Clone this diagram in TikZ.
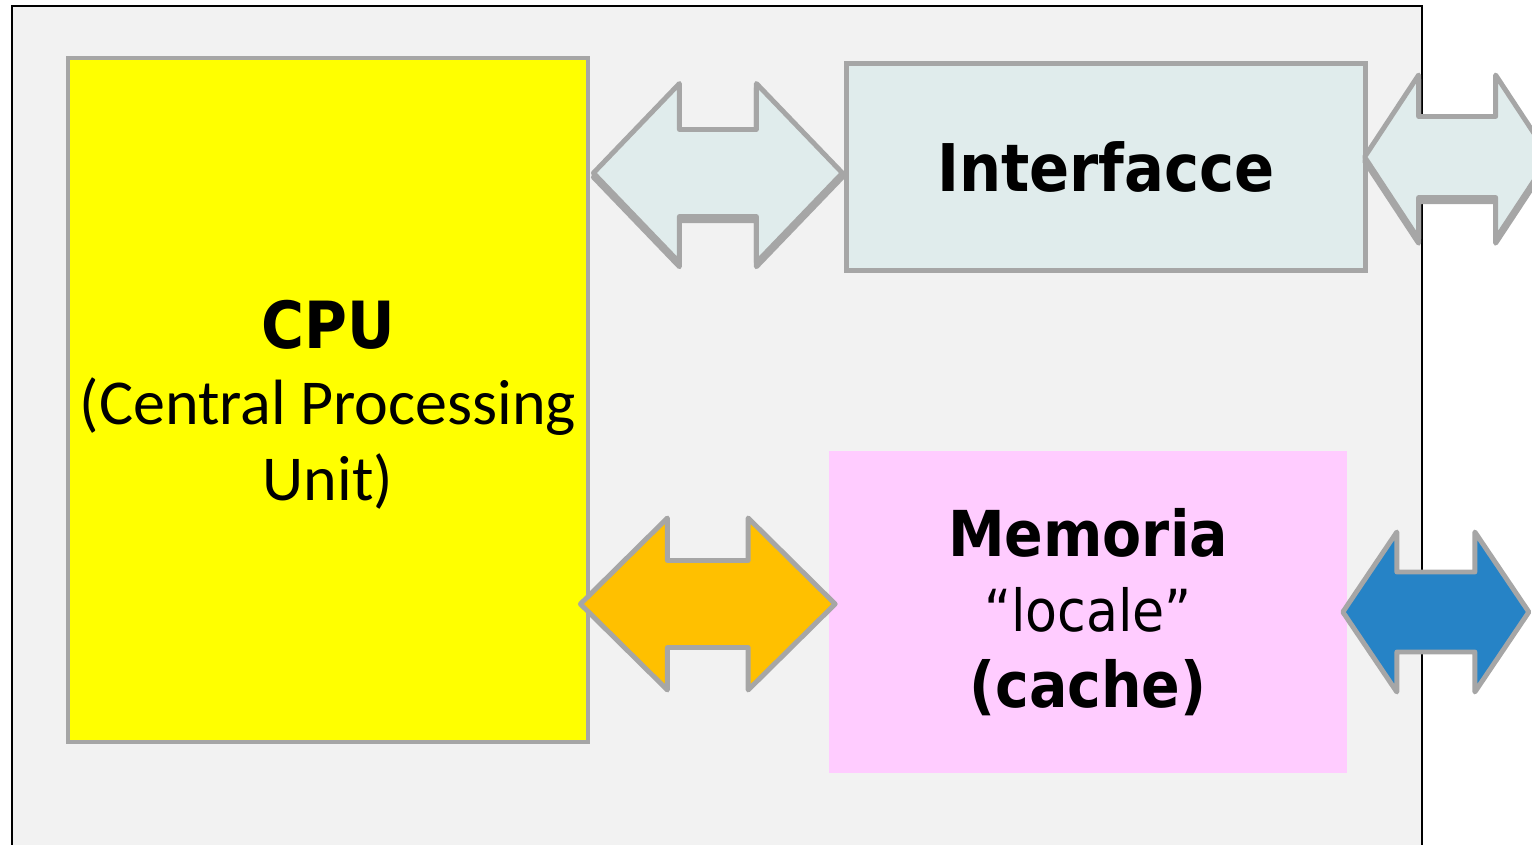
\documentclass[tikz,border=0pt]{standalone}
\usepackage{fontspec}
\setmainfont{Carlito}
\newfontfamily\tahoma{DejaVu Sans Condensed}
\usepackage{tikz}
\usetikzlibrary{calc}
\definecolor{panelbg}{HTML}{F2F2F2}
\definecolor{edgegray}{HTML}{A6A6A6}
\definecolor{cpuyellow}{HTML}{FFFF00}
\definecolor{ifcfill}{HTML}{E0ECEC}
\definecolor{memfill}{HTML}{FFCCFF}
\definecolor{busorange}{HTML}{FFC000}
\definecolor{busblue}{HTML}{2683C6}

% double block arrow: [style] {left tip} {right tip} {head length} {head half} {shaft half}
\newcommand{\dblarrow}[6][]{%
  \draw[#1] (#2) -- ($(#2)+(#4,-#5)$) -- ($(#2)+(#4,-#6)$) -- ($(#3)+(-#4,-#6)$)
    -- ($(#3)+(-#4,-#5)$) -- (#3) -- ($(#3)+(-#4,#5)$) -- ($(#3)+(-#4,#6)$)
    -- ($(#2)+(#4,#6)$) -- ($(#2)+(#4,#5)$) -- cycle;}

\begin{document}
\begin{tikzpicture}[x=0.01cm,y=-0.01cm,
  unit box/.style={rectangle,inner sep=0pt,align=center},
  bus/.style={draw=edgegray,line width=1.4pt,line join=round},
  bus shadow/.style={fill=edgegray,draw=edgegray,line width=1.4pt,line join=round}]

\clip (0,0) rectangle (1532,845);
\draw[fill=panelbg,line width=0.6pt] (12,6) rectangle (1422,880);

\node[unit box,fill=cpuyellow,draw=edgegray,line width=1.3pt,
  minimum width=5.2cm,minimum height=6.84cm,
  font=\fontsize{18.2}{21.6}\selectfont] (cpu) at (328,400)
  {\mbox{}\\[-5.3pt]{\tahoma\bfseries\fontsize{18.5}{21.6}\selectfont CPU}\\(Central Processing\\Unit)};

\node[unit box,fill=ifcfill,draw=edgegray,line width=1.4pt,
  minimum width=5.18cm,minimum height=2.06cm,
  font=\tahoma\bfseries\fontsize{18.7}{22}\selectfont] (ifc) at (1106,167) {Interfacce};

\node[unit box,fill=memfill,
  minimum width=5.18cm,minimum height=3.22cm,
  font=\tahoma\fontsize{18}{21.5}\selectfont] (mem) at (1088,612)
  {{\bfseries Memoria}\\{\fontsize{16.5}{21.5}\selectfont “locale”}\\{\bfseries (cache)}};

% arrow tips
\coordinate (ifcW) at ($(cpu.east |- ifc.west)+(3,6)$);
\coordinate (ifcE) at ($(ifc.west)+(-2,6)$);
\coordinate (outW) at ($(ifc.east)+(-3,-10)$);
\coordinate (outE) at ($(ifc.east)+(182,-10)$);
\coordinate (memW) at ($(cpu.east |- mem.west)+(-10,-8)$);
\coordinate (memE) at ($(mem.west)+(7,-8)$);
\coordinate (extW) at ($(mem.east)+(-5,0)$);
\coordinate (extE) at ($(mem.east)+(181,0)$);

\begin{scope}[transform canvas={yshift=-1.2pt}]
\dblarrow[bus shadow]{ifcW}{ifcE}{86}{89.5}{43.5}
\dblarrow[bus shadow]{outW}{outE}{54}{82}{40.5}
\end{scope}
\dblarrow[bus,fill=ifcfill]{ifcW}{ifcE}{86}{89.5}{43.5}
\dblarrow[bus,fill=ifcfill]{outW}{outE}{54}{82}{40.5}
\dblarrow[bus,fill=busorange]{memW}{memE}{87}{86}{43.5}
\dblarrow[bus,fill=busblue]{extW}{extE}{54}{80}{40}
\end{tikzpicture}
\end{document}
